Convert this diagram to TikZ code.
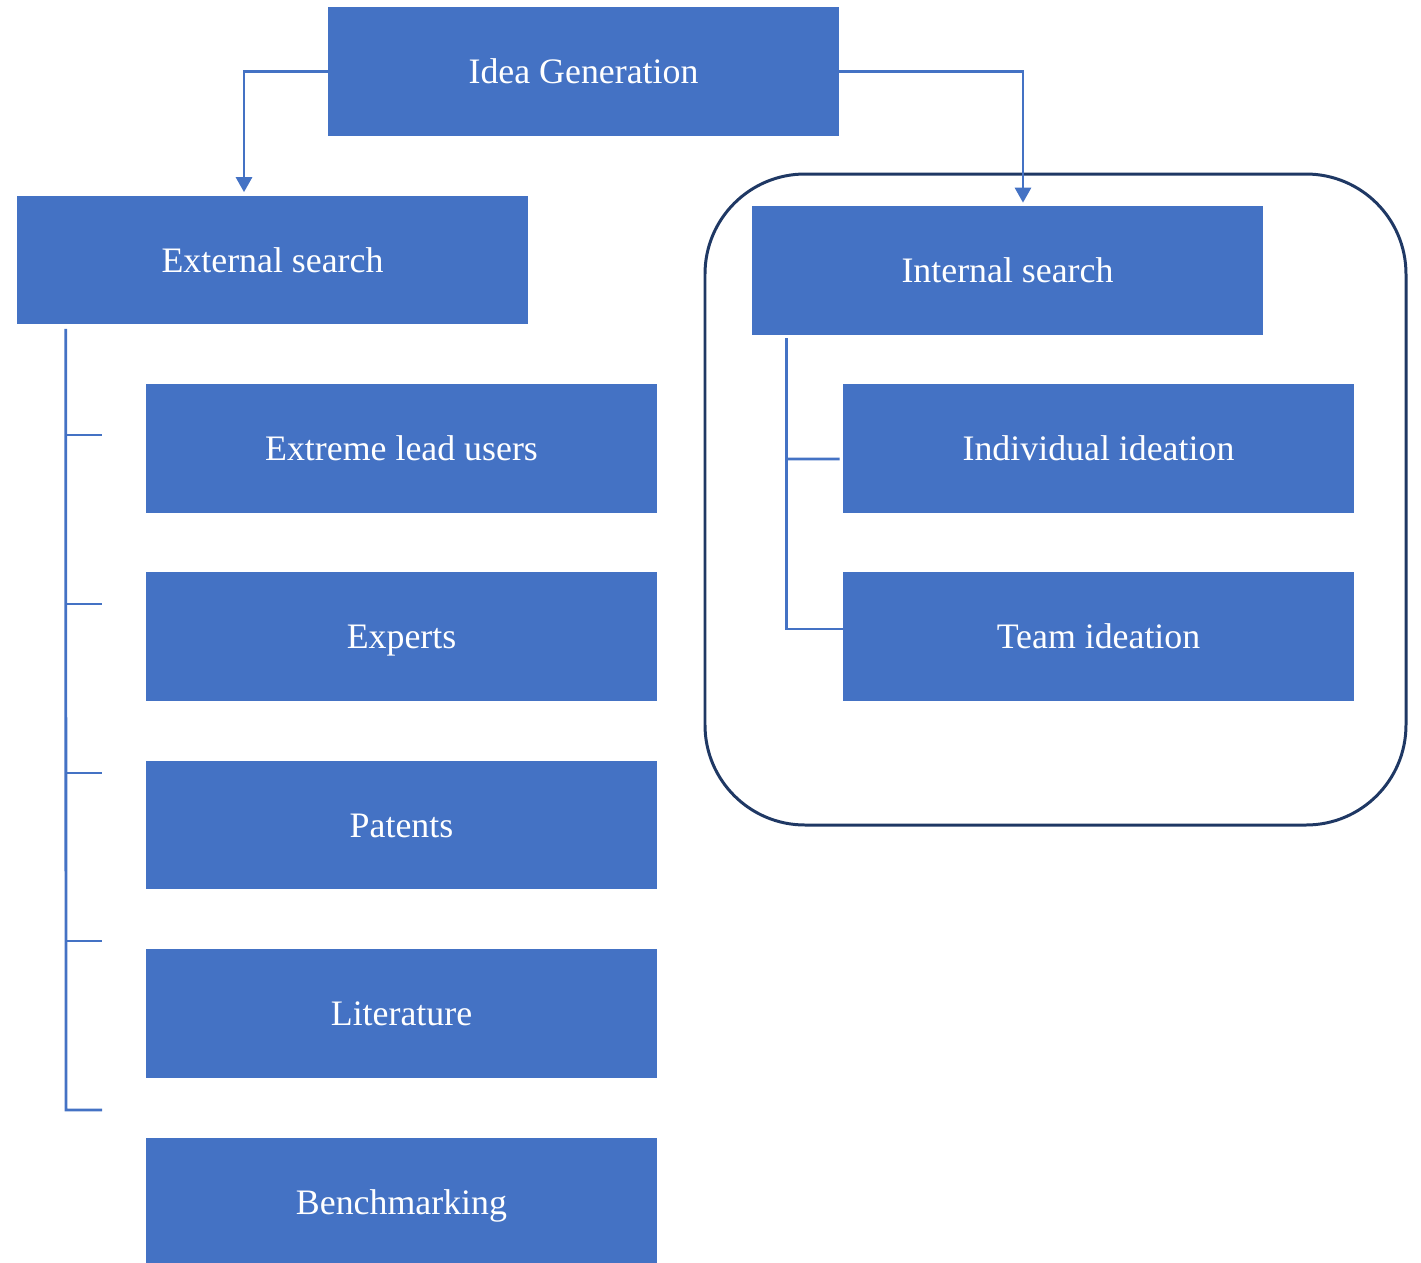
\documentclass[tikz,border=0pt]{standalone}
\usepackage{fontspec}
\setmainfont{Liberation Serif}
\usetikzlibrary{arrows.meta}
\definecolor{boxblue}{HTML}{4472C4}
\definecolor{framenavy}{HTML}{1F3864}

\begin{document}
\begin{tikzpicture}[x=0.02cm,y=-0.02cm,
  box/.style={fill=boxblue,text=white,minimum width=10.22cm,minimum height=2.58cm,
    inner sep=0pt,text height=14pt,text depth=0pt,font=\fontsize{20.4}{24}\selectfont},
  link/.style={boxblue,line width=1.6pt},
  >={Triangle[length=0.3cm,width=0.32cm]}]
\clip (0,0) rectangle (1421,1262);
% frame round the internal branch
\draw[framenavy,line width=1.7pt,rounded corners=2cm] (705,174) rectangle (1406,825);
\node[box] (idea) at (583.5,71.5) {Idea Generation};
\node[box] (ext) at (272.5,260) {External search};
\node[box] (int) at (1007.5,270.5) {Internal search};
\node[box] (lead) at (401.5,448.5) {Extreme lead users};
\node[box] (expert) at (401.5,636.5) {Experts};
\node[box] (patent) at (401.5,825) {Patents};
\node[box] (lit) at (401.5,1013.5) {Literature};
\node[box] (bench) at (401.5,1202.5) {Benchmarking};
\node[box] (indiv) at (1098.5,448.5) {Individual ideation};
\node[box] (team) at (1098.5,636.5) {Team ideation};
% top arrows
\draw[link,->] (idea.west) -| ([xshift=-0.57cm,yshift=0.06cm]ext.north);
\draw[link,->] (idea.east) -| ([xshift=0.31cm,yshift=0.06cm]int.north);
% external branch
\coordinate (ltop) at ([xshift=0.98cm,yshift=-0.08cm]ext.south west);
\coordinate (lbot) at (66,1110);
\draw[link] (ltop) -- (lbot) -- ++(36,0);
\foreach \y in {435,604,773,941}
  \draw[link] (66,\y) -- ++(36,0);
% internal branch
\coordinate (rtop) at ([xshift=0.7cm,yshift=-0.06cm]int.south west);
\draw[link] (rtop) |- ([yshift=0.15cm]team.west);
\draw[link] (rtop |- 0,459) -- ([yshift=-0.21cm,xshift=-0.06cm]indiv.west);
\end{tikzpicture}
\end{document}
